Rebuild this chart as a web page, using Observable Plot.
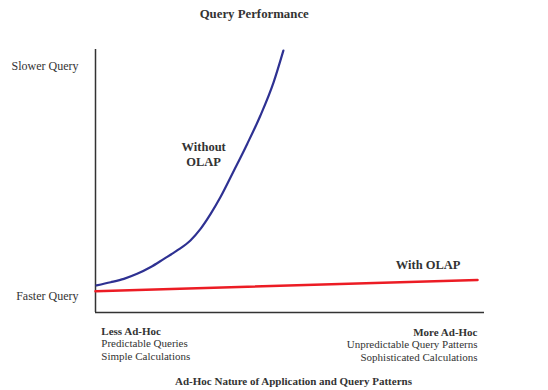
<!DOCTYPE html>
<html>
<head>
<meta charset="utf-8">
<script src="https://cdn.jsdelivr.net/npm/d3@7"></script>
<script src="https://cdn.jsdelivr.net/npm/@observablehq/plot@0.6"></script>
<style>
  html, body { margin: 0; padding: 0; background: #fff; }
  svg { display: block; }
</style>
</head>
<body>
<div id="chart"></div>
<script>
// Series: position along the ad-hoc axis (0-100) vs. query time (0-100)
const withoutX = [0.26, 3.9, 7.3, 10.7, 14.1, 17.6, 21.0, 24.4, 27.0, 29.6, 32.1, 35.6, 39.0, 42.4, 45.8, 48.3];
const withoutY = [10.3, 11.5, 12.8, 14.7, 17.2, 20.4, 23.6, 27.4, 31.8, 37.5, 43.8, 54.0, 64.1, 74.9, 87.6, 99.6];
const withX = [0, 98.2];
const withY = [8.1, 12.4];

// Tick labels
const yTickValues = [6.2, 93.6];
const yTickLabels = ["Faster Query", "Slower Query"];
const leftLabels = ["Less Ad-Hoc", "Predictable Queries", "Simple Calculations"];
const rightLabels = ["More Ad-Hoc", "Unpredictable Query Patterns", "Sophisticated Calculations"];
const title = "Query Performance";
const xTitle = "Ad-Hoc Nature of Application and Query Patterns";
const seriesLabels = ["Without\nOLAP", "With OLAP"];
const seriesLabelX = [27.8, 85.5];
const seriesLabelY = [60.4, 18.3];

const withoutData = withoutX.map((x, i) => ({x, y: withoutY[i]}));
const withData = withX.map((x, i) => ({x, y: withY[i]}));

const ink = "#333";
const lineDy = [18.5, 31, 43.5];

const bottomMarks = [];
lineDy.forEach((dy, i) => {
  const weight = i === 0 ? "bold" : "normal";
  bottomMarks.push(Plot.text([leftLabels[i]], {
    x: 1.5, frameAnchor: "bottom", lineAnchor: "middle", textAnchor: "start",
    dy, fontWeight: weight, fill: ink, fontSize: 11
  }));
  bottomMarks.push(Plot.text([rightLabels[i]], {
    x: 98.2, frameAnchor: "bottom", lineAnchor: "middle", textAnchor: "end",
    dy: dy + 1, fontWeight: weight, fill: ink, fontSize: 11
  }));
});

const chart = Plot.plot({
  width: 548,
  height: 390,
  marginLeft: 95,
  marginRight: 64,
  marginTop: 49,
  marginBottom: 78,
  x: {domain: [0, 100], axis: null},
  y: {domain: [0, 100], axis: null},
  style: {fontFamily: "'Liberation Serif', serif", fontSize: "11px", color: ink, background: "#fff"},
  marks: [
    Plot.axisY({
      ticks: yTickValues,
      tickSize: 0,
      tickPadding: 17,
      tickFormat: (d) => yTickLabels[yTickValues.indexOf(d)],
      label: null,
      fontSize: 12,
      fill: ink
    }),
    Plot.ruleX([0], {y1: 0, y2: 100, stroke: ink, strokeWidth: 1.5}),
    Plot.ruleY([0], {x1: 0, x2: 100, stroke: ink, strokeWidth: 1.5}),
    Plot.line(withData, {x: "x", y: "y", stroke: "#ec1c24", strokeWidth: 2.5}),
    Plot.line(withoutData, {x: "x", y: "y", stroke: "#2e3192", strokeWidth: 2.2, curve: "monotone-x"}),
    Plot.text(seriesLabels.map((t, i) => ({t, x: seriesLabelX[i], y: seriesLabelY[i]})), {
      x: "x", y: "y", text: "t", fontWeight: "bold", fontSize: 12.5, fill: ink, lineHeight: 1.25
    }),
    Plot.text([title], {
      frameAnchor: "top", x: 40.8, lineAnchor: "middle", dy: -36,
      fontWeight: "bold", fontSize: 12.8, fill: ink
    }),
    Plot.text([xTitle], {
      frameAnchor: "bottom", x: 50.9, lineAnchor: "middle", dy: 69,
      fontWeight: "bold", fontSize: 11, fill: ink
    }),
    ...bottomMarks
  ]
});

document.getElementById("chart").appendChild(chart);
</script>
</body>
</html>
